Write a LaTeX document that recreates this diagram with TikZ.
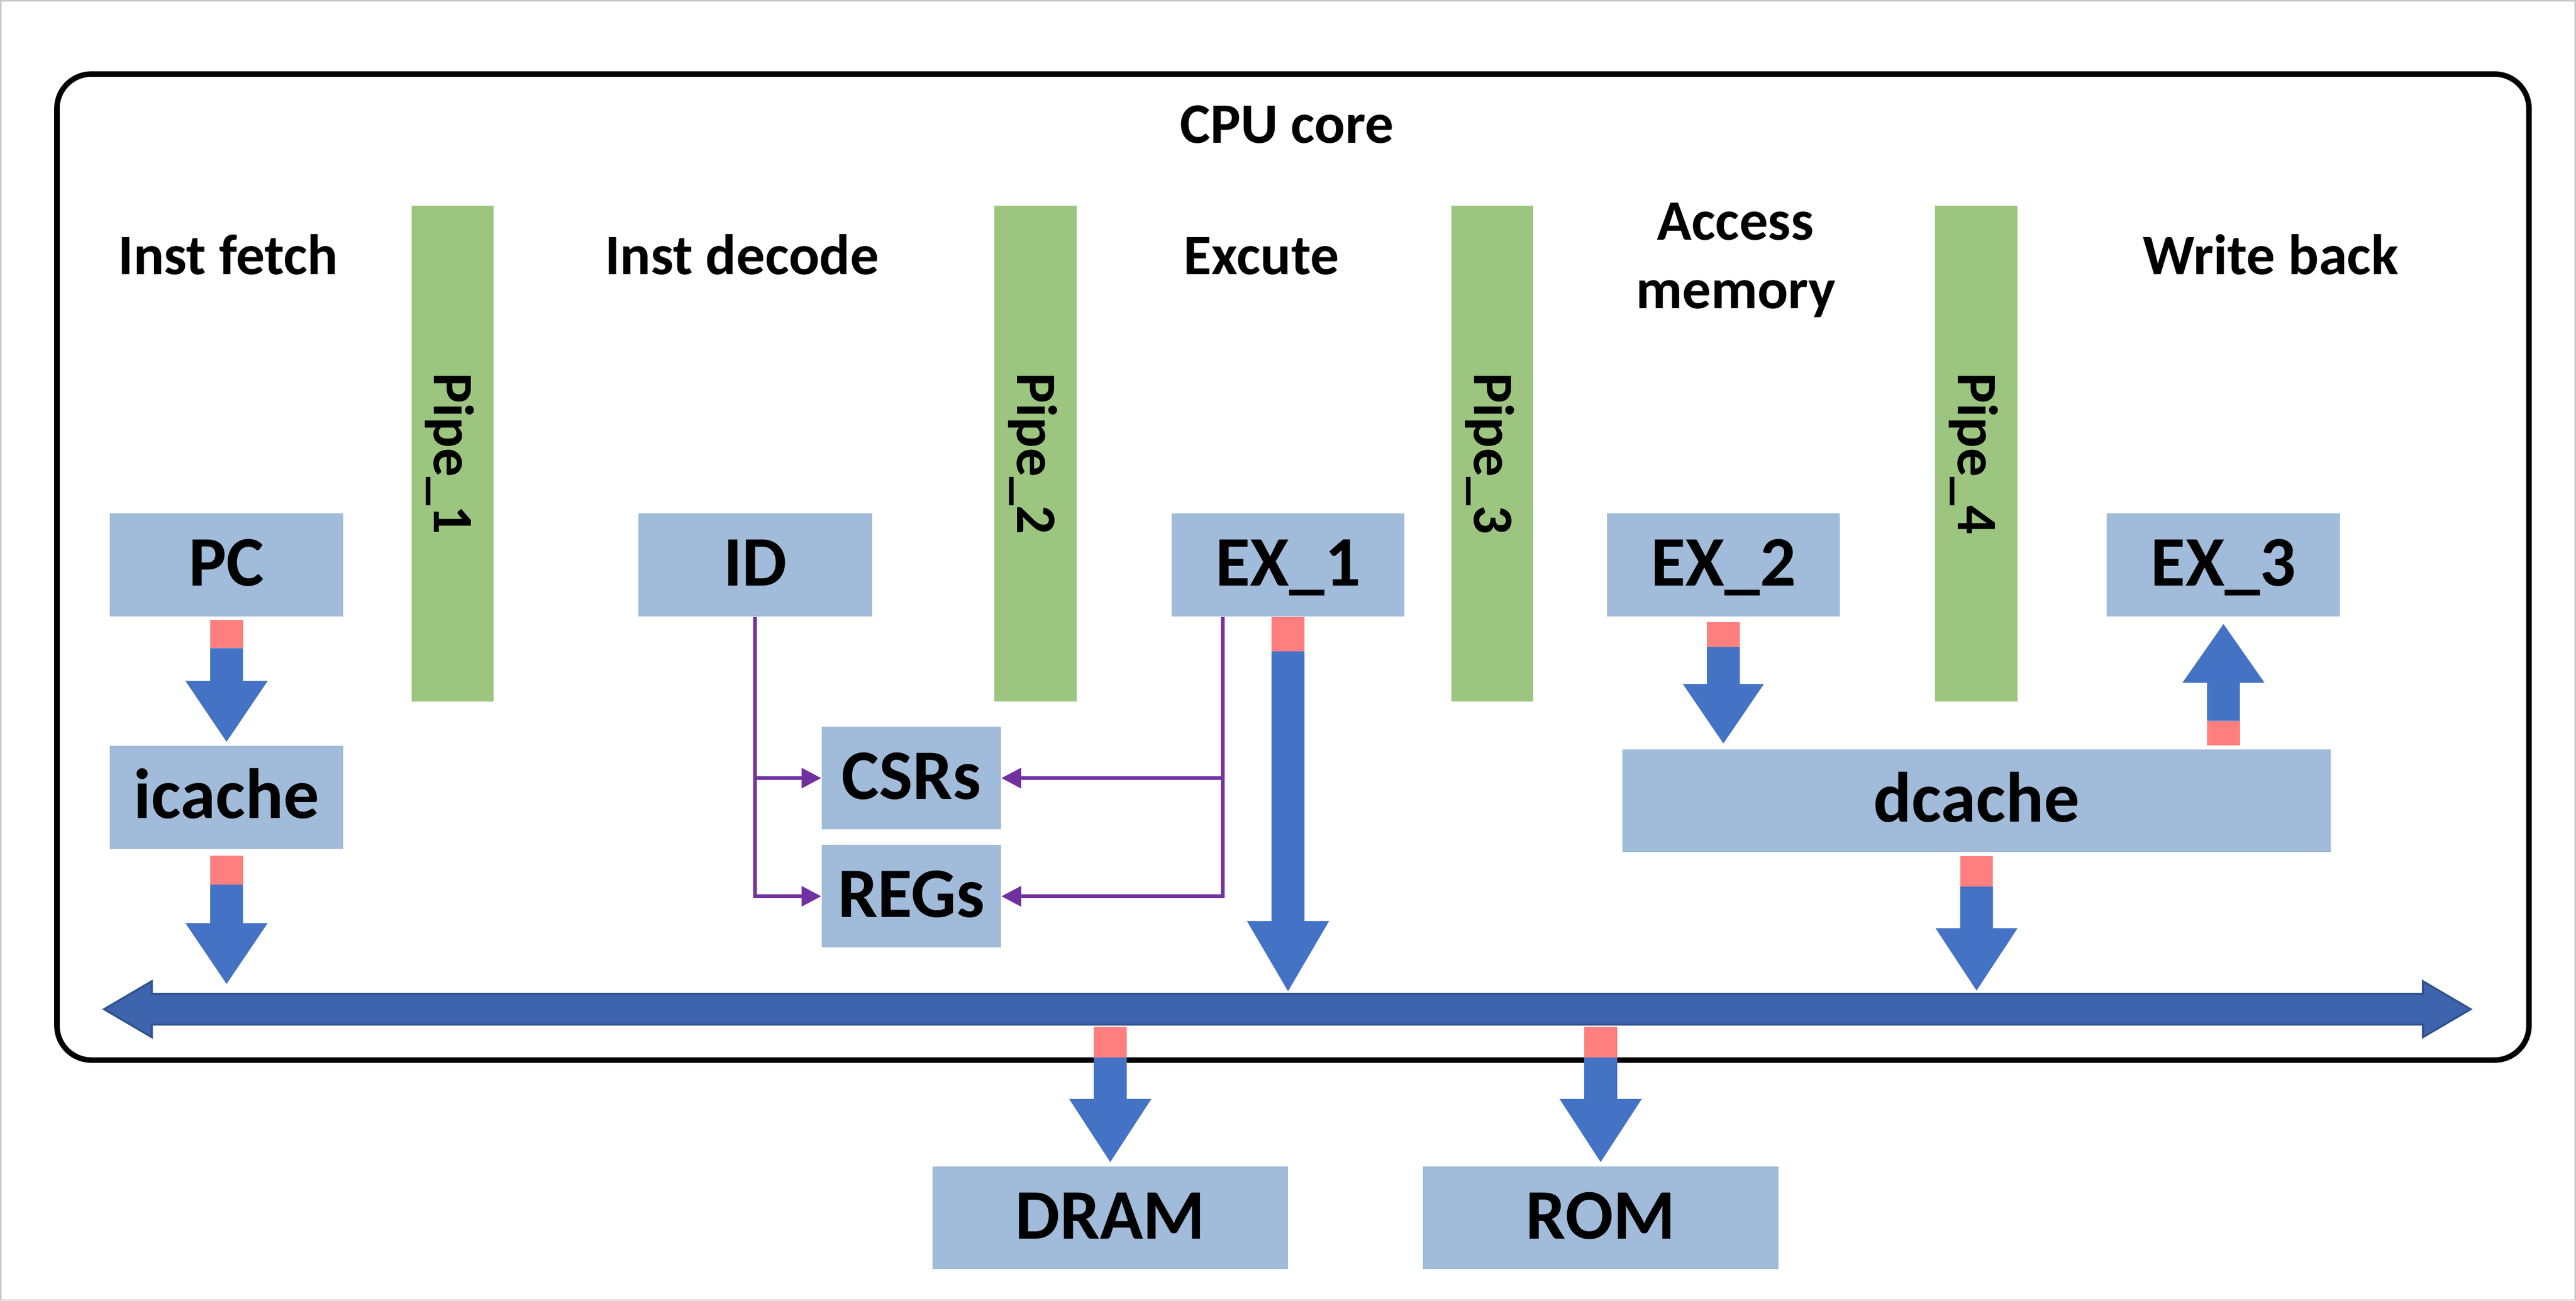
\documentclass[tikz,border=0pt]{standalone}
\usepackage{fontspec}
\setmainfont{Carlito}
\usetikzlibrary{calc,arrows.meta}
\definecolor{boxc}{HTML}{A1BCDA}
\definecolor{pipec}{HTML}{9CC680}
\definecolor{pinkc}{HTML}{FF7F7F}
\definecolor{arrblue}{HTML}{4472C4}
\definecolor{busfill}{HTML}{3E64AE}
\definecolor{busdraw}{HTML}{2F528F}
\definecolor{purpc}{HTML}{7030A0}
\newcommand{\blk}[5]{%
  \fill[pinkc] ($(#1)+(-10,0)$) rectangle ($(#1)+(10,#3)$);
  \fill[arrblue] ($(#1)+(-10,#3)$) -- ($(#2)-(10,#4)$) -- ($(#2)-(#5,#4)$) -- (#2)
     -- ($(#2)+(#5,0)-(0,#4)$) -- ($(#2)+(10,0)-(0,#4)$) -- ($(#1)+(10,#3)$) -- cycle;}
\begin{document}
\begin{tikzpicture}[x=0.02cm, y=-0.02cm,
  box/.style 2 args={fill=boxc, inner sep=0pt, minimum width=#1, minimum height=#2,
    font=\fontsize{24.6pt}{29pt}\selectfont\bfseries, text height=14.6pt, text depth=0pt},
  pipe/.style={fill=pipec, inner sep=0pt, minimum width=6.03cm, minimum height=1cm, rotate=-90,
    font=\fontsize{19.8pt}{23.7pt}\selectfont\bfseries, text height=12.75pt, text depth=0pt},
  ttl/.style={font=\fontsize{19.8pt}{23.7pt}\selectfont\bfseries, inner sep=0pt, anchor=base},
  conn/.style={draw=purpc, line width=1.25pt, -{Triangle[length=6.8pt,width=6.8pt]}}]
\useasboundingbox (0,0) rectangle (1568,791.27);
\draw[black!22, line width=0.4pt] (0.5,0.5) rectangle (1567.5,790.8);
% CPU core container
\node[draw, line width=1.9pt, rounded corners=0.42cm, minimum width=30.1cm, minimum height=12cm, inner sep=0pt] (cpu) at (787,345) {};
\node[ttl] (cputitle) at (783.4,87) {CPU core};
% stage titles
\node[ttl] (tIF) at (138.9,167) {Inst fetch};
\node[ttl] (tID) at (451.6,167) {Inst decode};
\node[ttl] (tEX) at (767.8,167) {Excute};
\node[ttl] (tMA1) at (1056.3,146) {Access};
\node[ttl] (tMA2) at (1056.6,187.6) {memory};
\node[ttl] (tWB) at (1382.2,167) {Write back};
% pipeline registers
\node[pipe] (p1) at (275.5,276) {Pipe\_1};
\node[pipe] (p2) at (630.3,276) {Pipe\_2};
\node[pipe] (p3) at (908.4,276) {Pipe\_3};
\node[pipe] (p4) at (1202.9,276) {Pipe\_4};
% boxes
\node[box={2.84cm}{1.25cm}] (PC) at (137.9,343.7) {PC};
\node[box={2.84cm}{1.25cm}] (icache) at (137.9,485.1) {icache};
\node[box={2.85cm}{1.25cm}] (ID) at (459.7,343.7) {ID};
\node[box={2.18cm}{1.25cm}] (CSRs) at (554.7,473.4) {CSRs};
\node[box={2.18cm}{1.25cm}] (REGs) at (554.7,545.3) {REGs};
\node[box={2.84cm}{1.25cm}] (EX1) at (784,343.7) {EX\_1};
\node[box={2.84cm}{1.25cm}] (EX2) at (1049,343.7) {EX\_2};
\node[box={2.84cm}{1.25cm}] (EX3) at (1353.4,343.7) {EX\_3};
\node[box={8.63cm}{1.25cm}] (dcache) at (1203.1,487.2) {dcache};
\node[box={4.33cm}{1.25cm}] (DRAM) at (675.8,740.8) {DRAM};
\node[box={4.33cm}{1.25cm}] (ROM) at (974.3,740.8) {ROM};
% bus
\node[inner sep=0pt, minimum width=28.8cm, minimum height=0.36cm] (bus) at (783.6,614) {};
\filldraw[fill=busfill, draw=busdraw, line width=0.7pt]
  (bus.west) -- ($(bus.west)+(29,-17)$) -- ($(bus.north west)+(29,0)$)
  -- ($(bus.north east)+(-29,0)$) -- ($(bus.east)+(-29,-17)$) -- (bus.east)
  -- ($(bus.east)+(-29,17)$) -- ($(bus.south east)+(-29,0)$)
  -- ($(bus.south west)+(29,0)$) -- ($(bus.west)+(29,17)$) -- cycle;
% block arrows
\coordinate (a1s) at ($(PC.south)+(0,2)$);
\coordinate (a1t) at ($(icache.north)+(0,-2.2)$);
\blk{a1s}{a1t}{17}{37}{25}
\coordinate (a2s) at ($(icache.south)+(0,4)$);
\coordinate (a2t) at ($(icache.south |- bus.north)+(0,-6)$);
\blk{a2s}{a2t}{17.5}{37}{25}
\coordinate (a3s) at (EX1.south);
\coordinate (a3t) at ($(EX1.south |- bus.north)+(0,-1.6)$);
\blk{a3s}{a3t}{21}{42.7}{25}
\coordinate (a4s) at ($(EX2.south)+(0,3.3)$);
\coordinate (a4t) at ($(EX2.south |- dcache.north)+(0,-3.3)$);
\blk{a4s}{a4t}{15}{36.2}{24.7}
\coordinate (a5s) at ($(EX3.south |- dcache.north)+(0,-2)$);
\coordinate (a5t) at ($(EX3.south)+(0,4.4)$);
\blk{a5s}{a5t}{-15}{-35.7}{25}
\coordinate (a6s) at ($(dcache.south)+(0,2.1)$);
\coordinate (a6t) at ($(dcache.south |- bus.north)+(0,-2)$);
\blk{a6s}{a6t}{18.5}{38}{25}
\coordinate (a7s) at ($(DRAM.north |- bus.south)+(0,1.4)$);
\coordinate (a7t) at ($(DRAM.north)+(0,-2.2)$);
\blk{a7s}{a7t}{18.6}{38.4}{25}
\coordinate (a8s) at ($(ROM.north |- bus.south)+(0,1.4)$);
\coordinate (a8t) at ($(ROM.north)+(0,-2.2)$);
\blk{a8s}{a8t}{18.6}{38.4}{25}
% purple connectors
\draw[conn] (ID.south) |- (REGs.west);
\draw[conn] (ID.south |- CSRs.west) -- (CSRs.west);
\coordinate (exj) at ($(EX1.south)+(-39.6,0)$);
\draw[conn] (exj) |- (REGs.east);
\draw[conn] (exj |- CSRs.east) -- (CSRs.east);
\end{tikzpicture}
\end{document}
